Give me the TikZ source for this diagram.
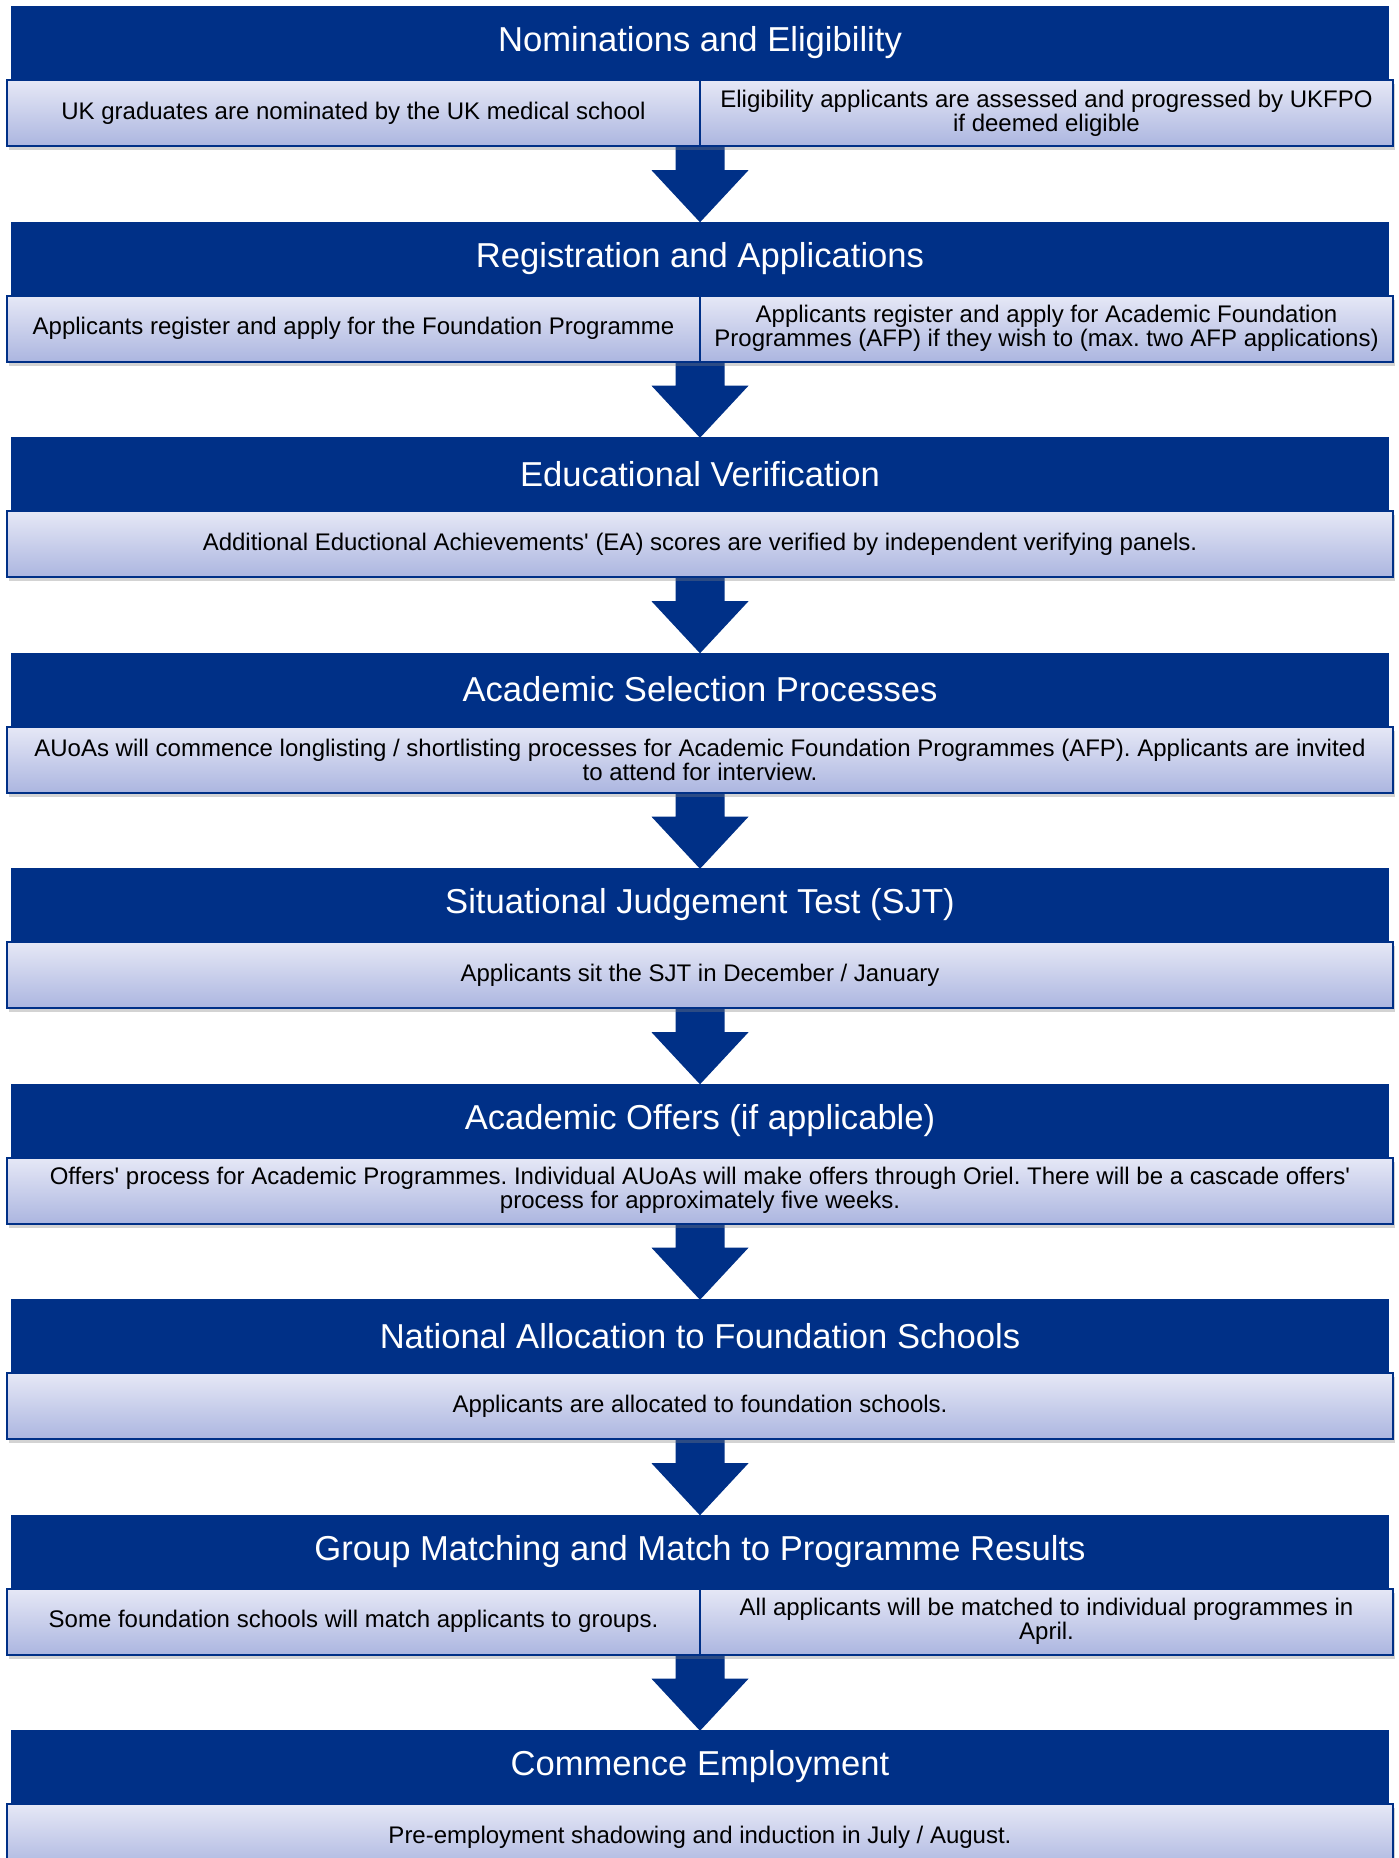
\documentclass[tikz,border=0pt]{standalone}
\usepackage{fontspec}
\setmainfont{Liberation Sans}
\usetikzlibrary{calc,shadows}
\definecolor{hdrblue}{RGB}{0,48,135}
\definecolor{subtop}{RGB}{230,232,246}
\definecolor{subbot}{RGB}{172,182,224}
\newcommand{\sq}{\textquotesingle}
\tikzset{
	header/.style={fill=hdrblue, text=white, minimum width=1378pt, minimum height=74pt, inner sep=0pt, font=\fontsize{34.6}{40}\selectfont},
	subbox/.style={draw=hdrblue, line width=2pt, top color=subtop, bottom color=subbot, minimum height=66pt, inner sep=0pt, align=center, font=\fontsize{24}{24}\selectfont\frenchspacing, drop shadow={opacity=0.35, shadow xshift=2pt, shadow yshift=-4pt}},
	fullbox/.style={subbox, minimum width=1386pt},
	halfbox/.style={subbox, minimum width=693pt},
	downarrow/.style={fill=hdrblue}
}
\begin{document}
\begin{tikzpicture}[x=1pt, y=-1pt]
			%%%%% START %%%%%
			
			\useasboundingbox (0, 0) rectangle (1399, 1858);
			
			\node[header] (h1) at (700, 43) {Nominations and Eligibility};
			\node[header] (h2) at (700, 258.5) {Registration and Applications};
			\node[header] (h3) at (700, 474) {Educational Verification};
			\node[header] (h4) at (700, 689.5) {Academic Selection Processes};
			\node[header] (h5) at (700, 905) {Situational Judgement Test (SJT)};
			\node[header] (h6) at (700, 1120.5) {Academic Offers (if applicable)};
			\node[header] (h7) at (700, 1336) {National Allocation to Foundation Schools};
			\node[header] (h8) at (700, 1551.5) {Group Matching and Match to Programme Results};
			\node[header] (h9) at (700, 1767) {Commence Employment};
			
			% arrows between the stages
			\foreach \i [count=\j from 2] in {1,...,8}
				\fill[downarrow] ($(h\i.south)+(-24.5, 66)$) -- ++(0, 24) -- ++(-24, 0) -- ($(h\j.north)+(0, 1)$)
					-- ($(h\i.south)+(48.5, 90)$) -- ++(-24, 0) -- ++(0, -24) -- cycle;
			
			\node[halfbox] (s1a) at (353.5, 113) {UK graduates are nominated by the UK medical school};
			\node[halfbox] (s1b) at (1046.5, 113) {Eligibility applicants are assessed and progressed by UKFPO\\if deemed eligible};
			
			\node[halfbox] (s2a) at (353.5, 328.5) {Applicants register and apply for the Foundation Programme};
			\node[halfbox] (s2b) at (1046.5, 328.5) {Applicants register and apply for Academic Foundation\\Programmes (AFP) if they wish to (max. two AFP applications)};
			
			\node[fullbox] (s3) at (700, 544) {Additional Eductional Achievements\sq{} (EA) scores are verified by independent verifying panels.};
			
			\node[fullbox] (s4) at (700, 759.5) {AUoAs will commence longlisting / shortlisting processes for Academic Foundation Programmes (AFP). Applicants are invited\\to attend for interview.};
			
			\node[fullbox] (s5) at (700, 975) {Applicants sit the SJT in December / January};
			
			\node[fullbox] (s6) at (700, 1190.5) {Offers\sq{} process for Academic Programmes. Individual AUoAs will make offers through Oriel. There will be a cascade offers\sq\\process for approximately five weeks.};
			
			\node[fullbox] (s7) at (700, 1406) {Applicants are allocated to foundation schools.};
			
			\node[halfbox] (s8a) at (353.5, 1621.5) {Some foundation schools will match applicants to groups.};
			\node[halfbox] (s8b) at (1046.5, 1621.5) {All applicants will be matched to individual programmes in\\April.};
			
			\node[fullbox] (s9) at (700, 1837) {Pre-employment shadowing and induction in July / August.};
			
			%%%%% END %%%%%
\end{tikzpicture}
\end{document}
